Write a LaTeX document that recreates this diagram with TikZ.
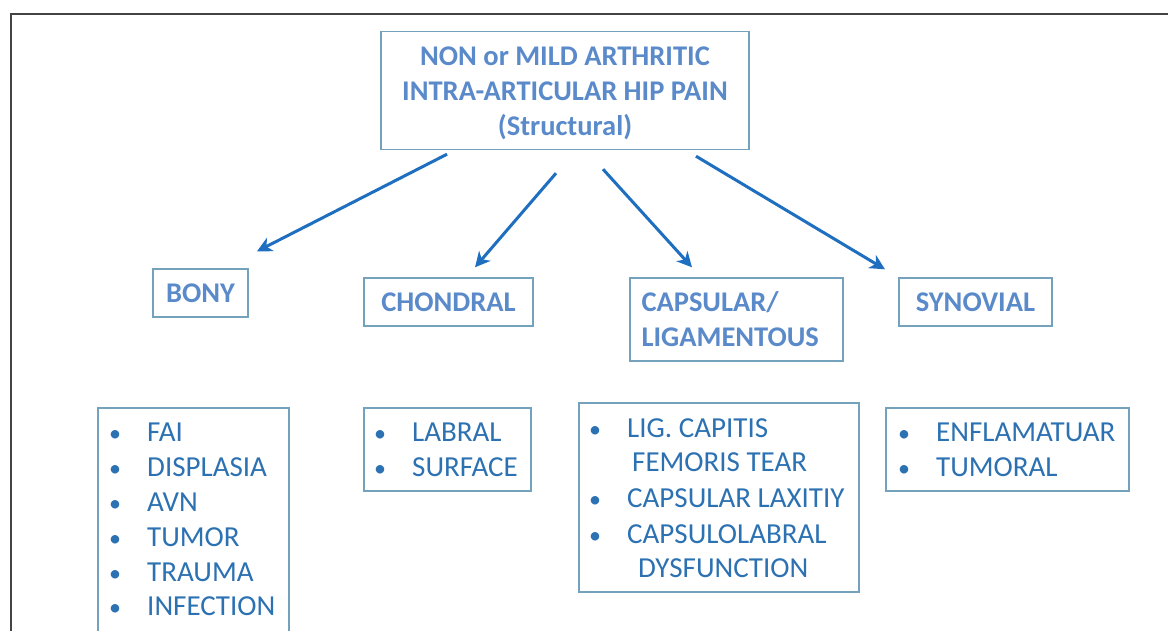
\documentclass[tikz,border=0pt]{standalone}
\usepackage{fontspec}
\setmainfont{Carlito}
\usetikzlibrary{arrows.meta}
\definecolor{framegray}{HTML}{444444}
\definecolor{boxline}{HTML}{74A2BC}
\definecolor{headblue}{HTML}{5A8ACA}
\definecolor{itemblue}{HTML}{2C71B2}
\definecolor{arrowblue}{HTML}{1E6FC0}
\tikzset{
  headbox/.style={draw=boxline, line width=1.4pt, inner sep=0pt,
    text=headblue, font=\bfseries\fontsize{28.5}{35}\selectfont},
  headtext/.style={inner sep=0pt, text=headblue,
    font=\bfseries\fontsize{28.5}{35}\selectfont},
  listbox/.style={draw=boxline, line width=1.4pt, inner sep=0pt},
  item/.style={anchor=base west, inner sep=0pt, text=itemblue,
    font=\fontsize{29}{35}\selectfont},
  dot/.style={anchor=base, inner sep=0pt, text=itemblue,
    font=\fontsize{24}{30}\selectfont},
  arr/.style={draw=arrowblue, line width=3pt,
    -{Stealth[length=15pt,width=15pt,inset=4.5pt]}}
}
\begin{document}
\begin{tikzpicture}[x=1pt,y=-1pt]
\useasboundingbox (0,0) rectangle (1168,630);
\clip (0,0) rectangle (1168,630);
\fill[white] (0,0) rectangle (1168,630);
% outer frame, running past the right and bottom edges
\draw[framegray, line width=2pt] (10.5,660) -- (10.5,13.5) -- (1200,13.5);

% root
\node[headbox, minimum width=368pt, minimum height=118pt] (root) at (565,90.5) {};
\node[headtext, align=center] (roottext) at (565,93.5)
  {NON or MILD ARTHRITIC\\INTRA-ARTICULAR HIP PAIN\\(Structural)};

% categories
\node[headbox, minimum width=95pt, minimum height=48pt] (bony) at (200.5,293) {BONY};
\node[headbox, minimum width=169pt, minimum height=48pt] (chondral) at (448.5,302) {CHONDRAL};
\node[headbox, minimum width=213pt, minimum height=83pt, align=left, text width=190pt]
  (capsular) at (736.5,319.5) {CAPSULAR/\\LIGAMENTOUS};
\node[headbox, minimum width=153pt, minimum height=48pt] (synovial) at (975.5,302) {SYNOVIAL};

% arrows
\draw[arr] ([shift={(-118,4)}]root.south) -- ([shift={(56.5,-17)}]bony.north);
\draw[arr] ([shift={(-9,23)}]root.south) -- ([shift={(26.5,-10)}]chondral.north);
\draw[arr] ([shift={(38,19)}]root.south) -- ([shift={(-44.5,-10)}]capsular.north);
\draw[arr] ([shift={(131,6)}]root.south) -- ([shift={(-90.5,-8)}]synovial.north);

% list boxes
\node[listbox, minimum width=191pt, minimum height=250pt] (bonylist) at (193.5,533) {};
\node[listbox, minimum width=167pt, minimum height=83pt] (chondlist) at (447.5,449.5) {};
\node[listbox, minimum width=280pt, minimum height=189pt] (capslist) at (719,497.5) {};
\node[listbox, minimum width=243pt, minimum height=83pt] (synlist) at (1007.5,449.5) {};

% bony items
\foreach \t/\y [count=\i] in {FAI/441, DISPLASIA/476, AVN/511, TUMOR/546, TRAUMA/581, INFECTION/615}{
  \node[dot] (bd\i) at (115,\y) {•};
  \node[item] (bt\i) at (147,\y) {\t};
}
% chondral items
\foreach \t/\y [count=\i] in {LABRAL/441, SURFACE/476}{
  \node[dot] (cd\i) at (380,\y) {•};
  \node[item] (ct\i) at (412,\y) {\t};
}
% capsular items
\node[dot] (kd1) at (595,437) {•};
\node[item] (kt1) at (627,437) {LIG. CAPITIS};
\node[item] (kt1b) at (632,471) {FEMORIS TEAR};
\node[dot] (kd2) at (595,507) {•};
\node[item] (kt2) at (627,507) {CAPSULAR LAXITIY};
\node[dot] (kd3) at (595,543) {•};
\node[item] (kt3) at (627,543) {CAPSULOLABRAL};
\node[item] (kt3b) at (638,577) {DYSFUNCTION};
% synovial items
\foreach \t/\y [count=\i] in {ENFLAMATUAR/441, TUMORAL/476}{
  \node[dot] (sd\i) at (904,\y) {•};
  \node[item] (st\i) at (936,\y) {\t};
}
\end{tikzpicture}
\end{document}
